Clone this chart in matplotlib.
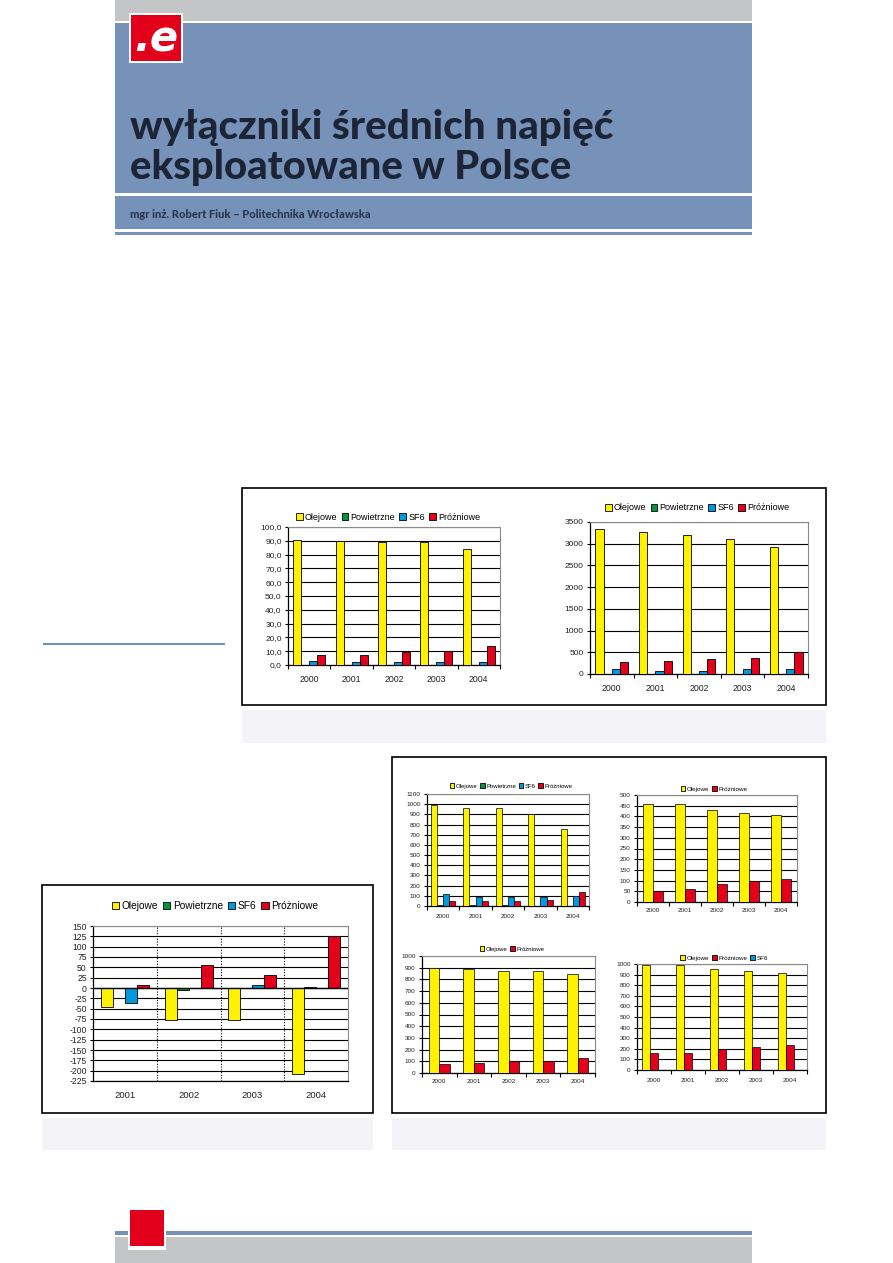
import matplotlib
matplotlib.use('Agg')
import matplotlib.pyplot as plt
from matplotlib.patches import Rectangle, Patch
import numpy as np

plt.rcParams['font.family'] = ['Liberation Sans', 'DejaVu Sans']

# ---------------- data ----------------
years5 = ['2000', '2001', '2002', '2003', '2004']
years4 = ['2001', '2002', '2003', '2004']

c1a_olejowe = [90.7, 90.0, 88.8, 88.8, 83.8]
c1a_powietrzne = [0.1, 0.1, 0.1, 0.1, 0.1]
c1a_sf6 = [3.1, 2.4, 2.4, 2.4, 2.4]
c1a_prozniowe = [7.2, 7.4, 9.4, 10.3, 13.8]

c1b_olejowe = [3338, 3277, 3200, 3115, 2930]
c1b_powietrzne = [5, 5, 5, 5, 5]
c1b_sf6 = [108, 77, 77, 108, 108]
c1b_prozniowe = [270, 293, 339, 362, 501]

c2_olejowe = [-46, -78, -78, -207]
c2_powietrzne = [0, -5, 0, 3]
c2_sf6 = [-36, 0, 7, 0]
c2_prozniowe = [7, 56, 32, 125]

c3a_olejowe = [993, 958, 958, 905, 756]
c3a_powietrzne = [13, 13, 13, 0, 0]
c3a_sf6 = [120, 88, 88, 88, 98]
c3a_prozniowe = [49, 49, 49, 59, 137]

c3b_olejowe = [460, 460, 431, 417, 408]
c3b_prozniowe = [53, 59, 86, 98, 109]

c3c_olejowe = [898, 892, 875, 875, 850]
c3c_prozniowe = [76, 85, 99, 99, 127]

c3d_olejowe = [987, 987, 950, 931, 918]
c3d_prozniowe = [157, 157, 195, 214, 233]
c3d_sf6 = [0, 0, 0, 0, 0]

# ---------------- styles ----------------
YEL = '#fff200'
GRN = '#00963f'
BLU = '#0099dd'
RED = '#e2001a'
HEAD_BLUE = '#7692b9'
GRAY = '#c4c5c7'
CAPTION = '#f3f3f8'

W, H = 893, 1263
fig = plt.figure(figsize=(W / 100, H / 100), dpi=100)
page = fig.add_axes([0, 0, 1, 1])
page.set_xlim(0, W)
page.set_ylim(H, 0)
page.axis('off')


def rect(x0, y0, x1, y1, fc, ec='none', lw=0, z=1):
    page.add_patch(Rectangle((x0, y0), x1 - x0, y1 - y0, facecolor=fc,
                             edgecolor=ec, linewidth=lw, zorder=z))


def add_ax(x0, y0, x1, y1):
    return fig.add_axes([x0 / W, 1 - y1 / H, (x1 - x0) / W, (y1 - y0) / H])


renderer = fig.canvas.get_renderer()


def fit_text(txt, x0, x1, yc, size0, **kw):
    t = page.text(x0, yc, txt, fontsize=size0, va='center', ha='left', **kw)
    w = t.get_window_extent(renderer=renderer).width
    t.set_fontsize(size0 * (x1 - x0) / w)
    return t


# ---------------- header ----------------
rect(115, 0, 752, 21, GRAY)
rect(115, 23, 752, 193, HEAD_BLUE)
rect(128, 193, 615, 195, 'white', z=2)
rect(115, 196, 752, 229, HEAD_BLUE)
rect(115, 232, 752, 235, HEAD_BLUE)
# logo
rect(129, 13, 183, 63, 'white', z=3)
rect(131, 15, 181, 61, RED, z=4)
page.text(156, 40, '.e', color='white', fontsize=30, fontweight='bold',
          style='italic', ha='center', va='center', zorder=5,
          family=['DejaVu Sans'])

fit_text('wyłączniki średnich napięć', 130, 614, 127, 22, color='#1c2436',
         family=['Lato', 'DejaVu Sans'], fontweight='black', zorder=3)
fit_text('eksploatowane w Polsce', 130, 570, 167, 22, color='#1c2436',
         family=['Lato', 'DejaVu Sans'], fontweight='black', zorder=3)
fit_text('mgr inż. Robert Fiuk – Politechnika Wrocławska', 130, 371, 215, 7,
         color='#2a3550', family=['Lato', 'DejaVu Sans'], fontweight='black',
         zorder=3)

# ---------------- footer ----------------
rect(115, 1231, 752, 1235, HEAD_BLUE)
rect(115, 1237, 752, 1263, GRAY)
rect(128, 1209, 166, 1250, 'white', z=3)
rect(130, 1210, 164, 1246, RED, z=4)

# left thin blue line
rect(43, 643, 225, 645, '#6f8fc0')

# boxes and captions
rect(242, 488, 826, 705, 'white', ec='black', lw=1.2)
rect(242, 710, 826, 743, CAPTION)
rect(42, 885, 373, 1113, 'white', ec='black', lw=1.2)
rect(42, 1118, 373, 1150, CAPTION)
rect(392, 757, 826, 1113, 'white', ec='black', lw=1.2)
rect(392, 1118, 826, 1150, CAPTION)


def bar_chart(box, cats, series, ylim, yticks, ylabels, fs_tick, fs_x, x_pad,
              leg_xy, fs_leg, gap=1.3, lw=0.6, neg=False):
    ax = add_ax(*box)
    ax.set_facecolor('none')
    n = len(series)
    w = 1.0 / (n + gap)
    x = np.arange(len(cats))
    handles = []
    for i, (name, vals, col) in enumerate(series):
        ax.bar(x + (i - (n - 1) / 2) * w, vals, width=w, color=col,
               edgecolor='black', linewidth=lw, zorder=3)
        handles.append(Patch(facecolor=col, edgecolor='black', linewidth=0.6,
                             label=name))
    ax.set_xlim(-0.5, len(cats) - 0.5)
    ax.set_ylim(*ylim)
    ax.set_yticks(yticks)
    ax.set_yticklabels(ylabels)
    ax.yaxis.grid(True, color='black', lw=0.8)
    ax.set_axisbelow(True)
    if neg:
        ax.set_xticks([])
        ax.axhline(0, color='black', lw=1.0, zorder=4)
        for b in np.arange(1, len(cats)) - 0.5:
            ax.axvline(b, color='black', lw=0.8, ls=(0, (1, 1.5)), zorder=2)
    else:
        ax.set_xticks(np.arange(len(cats) + 1) - 0.5)
        ax.set_xticklabels([])
    ax.set_xticks(x, minor=True)
    ax.set_xticklabels(cats, minor=True)
    ax.tick_params(axis='x', which='major', length=3, width=0.8,
                   direction='out')
    ax.tick_params(axis='x', which='minor', length=0, labelsize=fs_x,
                   pad=x_pad, colors='#222222')
    ax.tick_params(axis='y', length=2.5, width=0.8, labelsize=fs_tick, pad=2,
                   colors='#222222')
    ax.tick_params(axis='y', color='black')
    ax.tick_params(axis='x', color='black')
    for s in ['top', 'right']:
        ax.spines[s].set_color('#8a8a8a')
        ax.spines[s].set_linewidth(0.8)
    for s in ['left', 'bottom']:
        ax.spines[s].set_color('black')
        ax.spines[s].set_linewidth(0.9)
    fig.legend(handles=handles, loc='center',
               bbox_to_anchor=(leg_xy[0] / W, 1 - leg_xy[1] / H),
               ncol=n, frameon=False, fontsize=fs_leg, handlelength=0.75,
               handleheight=0.75, handletextpad=0.25, columnspacing=0.45,
               borderpad=0, borderaxespad=0)
    return ax


# chart 1a
t1a = np.arange(0, 101, 10)
bar_chart((288, 527, 500, 665), years5,
          [('Olejowe', c1a_olejowe, YEL), ('Powietrzne', c1a_powietrzne, GRN),
           ('SF6', c1a_sf6, BLU), ('Próżniowe', c1a_prozniowe, RED)],
          (0, 100), t1a, [f'{v:.1f}'.replace('.', ',') for v in t1a],
          6.0, 6.3, 7.5, (388, 517), 6.5)

# chart 1b
t1b = np.arange(0, 3501, 500)
bar_chart((590, 522, 808, 674), years5,
          [('Olejowe', c1b_olejowe, YEL), ('Powietrzne', c1b_powietrzne, GRN),
           ('SF6', c1b_sf6, BLU), ('Próżniowe', c1b_prozniowe, RED)],
          (0, 3500), t1b, [str(v) for v in t1b],
          6.0, 6.3, 7.0, (697, 508), 6.5)

# chart 2
t2 = np.arange(-225, 151, 25)
bar_chart((93, 926, 348, 1081), years4,
          [('Olejowe', c2_olejowe, YEL), ('Powietrzne', c2_powietrzne, GRN),
           ('SF6', c2_sf6, BLU), ('Próżniowe', c2_prozniowe, RED)],
          (-225, 150), t2, [str(v) for v in t2],
          6.2, 6.8, 7.5, (215, 906), 7.3, neg=True)

# chart 3a
t3a = np.arange(0, 1101, 100)
bar_chart((427, 794, 589, 906), years5,
          [('Olejowe', c3a_olejowe, YEL), ('Powietrzne', c3a_powietrzne, GRN),
           ('SF6', c3a_sf6, BLU), ('Próżniowe', c3a_prozniowe, RED)],
          (0, 1100), t3a, [str(v) for v in t3a],
          4.6, 4.6, 5.5, (511, 786), 4.3, lw=0.5)

# chart 3b
t3b = np.arange(0, 501, 50)
bar_chart((637, 795, 797, 902), years5,
          [('Olejowe', c3b_olejowe, YEL), ('Próżniowe', c3b_prozniowe, RED)],
          (0, 500), t3b, [str(v) for v in t3b],
          4.6, 4.6, 4.5, (714, 789), 4.5, lw=0.5)

# chart 3c
t3c = np.arange(0, 1001, 100)
bar_chart((422, 956, 595, 1073), years5,
          [('Olejowe', c3c_olejowe, YEL), ('Próżniowe', c3c_prozniowe, RED)],
          (0, 1000), t3c, [str(v) for v in t3c],
          4.6, 4.6, 4.5, (512, 949), 4.3, lw=0.5)

# chart 3d
bar_chart((637, 964, 807, 1070), years5,
          [('Olejowe', c3d_olejowe, YEL), ('Próżniowe', c3d_prozniowe, RED),
           ('SF6', c3d_sf6, BLU)],
          (0, 1000), t3c, [str(v) for v in t3c],
          4.6, 4.6, 5.5, (724, 958), 4.5, lw=0.5)

fig.savefig('out.png', dpi=100)
